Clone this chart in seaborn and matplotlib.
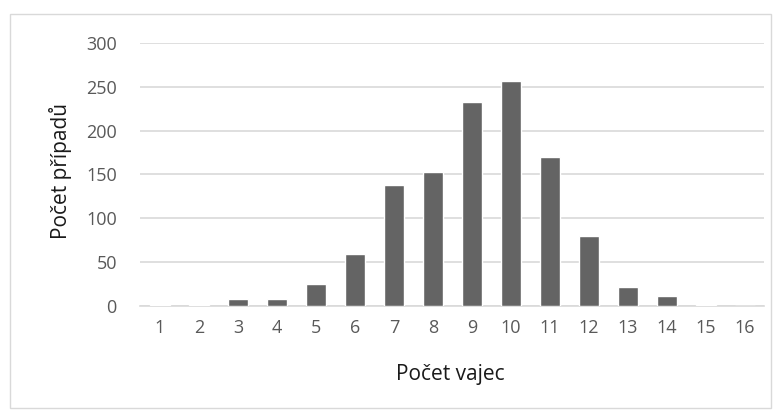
import matplotlib
matplotlib.use("Agg")
import matplotlib.pyplot as plt
import seaborn as sns
import pandas as pd

# number of eggs and number of cases
pocet_vajec = [str(i) for i in range(1, 17)]
pocet_pripadu = [1, 1, 8, 8, 25, 59, 138, 153, 233, 257, 170, 80, 22, 11, 1, 0]

df = pd.DataFrame({"vajec": pocet_vajec, "pripadu": pocet_pripadu})

sns.set_style("white")
plt.rcParams["font.family"] = ["Open Sans", "DejaVu Sans"]

fig = plt.figure(figsize=(7.76, 4.13), dpi=100)
ax = fig.add_axes([0.181, 0.259, 0.804, 0.637])

sns.barplot(data=df, x="vajec", y="pripadu", color="#646464", saturation=1,
            width=0.52, ax=ax, zorder=3)

ax.set_ylim(0, 300)
ax.set_yticks(range(0, 301, 50))
ax.grid(axis="y", color="#d9d9d9", linewidth=1.2, zorder=0)
for s in ["top", "right", "left"]:
    ax.spines[s].set_visible(False)
ax.spines["bottom"].set_color("#d9d9d9")
ax.spines["bottom"].set_linewidth(1.2)
ax.tick_params(axis="both", length=0, labelsize=13, labelcolor="#595959")
ax.tick_params(axis="x", pad=9)
ax.tick_params(axis="y", pad=17)

ax.set_xlabel("Počet vajec", fontsize=15, color="#1a1a1a", va="center")
ax.set_ylabel("Počet případů", fontsize=15, color="#1a1a1a", va="center")
ax.xaxis.set_label_coords(0.497, -0.262)
ax.yaxis.set_label_coords(-0.128, 0.515)

# outer chart border
fig.patches.append(plt.Rectangle((0.013, 0.012), 0.98, 0.955, transform=fig.transFigure,
                                 fill=False, edgecolor="#d9d9d9", linewidth=1))

fig.savefig("out.png", dpi=100)
